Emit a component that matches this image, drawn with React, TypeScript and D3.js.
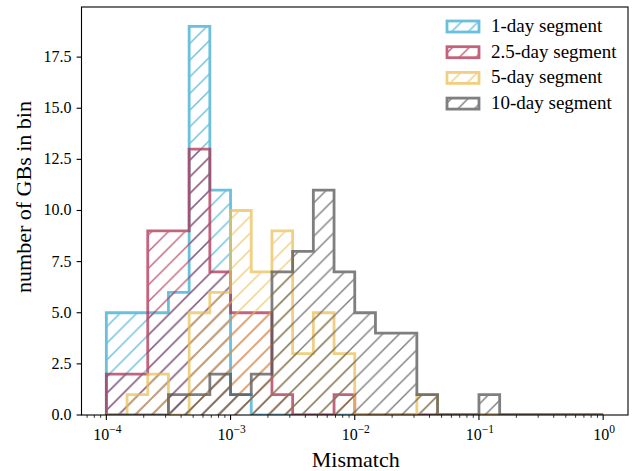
import React, { useEffect, useRef } from "react";
import * as d3 from "d3";

// histogram counts per log bin (24 bins between 1e-4 and 1e0)
const oneDay = [5, 5, 5, 6, 19, 11, 1, 0, 0, 0, 0, 0, 0, 0, 0, 0, 0, 0, 0, 0, 0, 0, 0, 0];
const twoHalfDay = [2, 2, 9, 9, 13, 7, 5, 5, 1, 0, 0, 1, 0, 0, 0, 0, 0, 0, 0, 0, 0, 0, 0, 0];
const fiveDay = [0, 1, 2, 0, 5, 6, 10, 7, 9, 3, 5, 3, 0, 0, 0, 1, 0, 0, 0, 0, 0, 0, 0, 0];
const tenDay = [0, 0, 0, 1, 1, 2, 1, 2, 7, 8, 11, 7, 5, 4, 4, 1, 0, 0, 1, 0, 0, 0, 0, 0];

const seriesNames = ["1-day segment", "2.5-day segment", "5-day segment", "10-day segment"];
const seriesColors = ["#38acd2", "#b03050", "#ebc058", "#555555"];
const yTicks = [0, 2.5, 5, 7.5, 10, 12.5, 15, 17.5];
const xMajor = [-4, -3, -2, -1, 0];

const W = 644, H = 471;
const left = 81.5, right = 628, top = 7, bottom = 415;
const FONT = "'Liberation Serif', 'DejaVu Serif', serif";

export default function App() {
  const ref = useRef<SVGSVGElement>(null);

  useEffect(() => {
    const svg = d3.select(ref.current);
    svg.selectAll("*").remove();

    const edges = d3.range(25).map((i) => Math.pow(10, -4 + i / 6));
    const x = d3.scaleLog().domain([Math.pow(10, -4.2), Math.pow(10, 0.2)]).range([left, right]);
    const y = d3.scaleLinear().domain([0, 19.95]).range([bottom, top]);

    const defs = svg.append("defs");
    const hs = 100 / 6;
    seriesColors.forEach((c, i) => {
      const p = defs.append("pattern")
        .attr("id", "hatch" + i)
        .attr("patternUnits", "userSpaceOnUse")
        .attr("width", hs)
        .attr("height", hs);
      p.append("path")
        .attr("d", `M0,${hs} L${hs},0 M${-hs / 2},${hs / 2} L${hs / 2},${-hs / 2} M${hs / 2},${hs * 1.5} L${hs * 1.5},${hs / 2}`)
        .attr("stroke", c)
        .attr("stroke-width", 1.4);
    });

    defs.append("clipPath").attr("id", "plotclip")
      .append("rect").attr("x", left).attr("y", top).attr("width", right - left).attr("height", bottom - top);

    const all = [oneDay, twoHalfDay, fiveDay, tenDay];
    const plot = svg.append("g").attr("clip-path", "url(#plotclip)");

    all.forEach((counts, si) => {
      const pts: [number, number][] = [[x(edges[0]), y(0)]];
      counts.forEach((v, i) => {
        pts.push([x(edges[i]), y(v)]);
        pts.push([x(edges[i + 1]), y(v)]);
      });
      pts.push([x(edges[24]), y(0)]);
      const line = d3.line();
      const g = plot.append("g").attr("opacity", 0.75);
      g.append("path")
        .attr("d", line(pts) + "Z")
        .attr("fill", `url(#hatch${si})`)
        .attr("stroke", "none");
      g.append("path")
        .attr("d", line(pts))
        .attr("fill", "none")
        .attr("stroke", seriesColors[si])
        .attr("stroke-width", 2.8)
        .attr("stroke-linejoin", "miter");
    });

    // frame
    svg.append("rect")
      .attr("x", left).attr("y", top).attr("width", right - left).attr("height", bottom - top)
      .attr("fill", "none").attr("stroke", "#000").attr("stroke-width", 1.1);

    // y axis
    const ya = svg.append("g");
    yTicks.forEach((t) => {
      ya.append("line")
        .attr("x1", left - 4.9).attr("x2", left)
        .attr("y1", y(t)).attr("y2", y(t))
        .attr("stroke", "#000").attr("stroke-width", 1.1);
      ya.append("text")
        .attr("x", left - 10).attr("y", y(t) + 5)
        .attr("text-anchor", "end")
        .attr("font-family", FONT).attr("font-size", 16)
        .text(d3.format(".1f")(t));
    });

    // x axis: major and minor log ticks
    const xa = svg.append("g");
    const [d0, d1] = x.domain();
    for (let e = -5; e <= 0; e++) {
      for (let m = 1; m < 10; m++) {
        const v = m * Math.pow(10, e);
        if (v < d0 || v > d1) continue;
        const major = m === 1;
        xa.append("line")
          .attr("x1", x(v)).attr("x2", x(v))
          .attr("y1", bottom).attr("y2", bottom + (major ? 4.9 : 2.8))
          .attr("stroke", "#000").attr("stroke-width", major ? 1.1 : 0.8);
      }
    }
    xMajor.forEach((e) => {
      const t = xa.append("text")
        .attr("x", x(Math.pow(10, e)) + 1)
        .attr("y", 440)
        .attr("text-anchor", "middle")
        .attr("font-family", FONT).attr("font-size", 16);
      t.append("tspan").text("10");
      t.append("tspan").attr("dy", -7).attr("font-size", 11.5).text(e < 0 ? "\u2212" + -e : String(e));
    });

    // axis labels
    svg.append("text")
      .attr("x", (left + right) / 2 + 1).attr("y", 467)
      .attr("text-anchor", "middle")
      .attr("font-family", FONT).attr("font-size", 22)
      .text("Mismatch");
    svg.append("text")
      .attr("transform", `translate(31,${(top + bottom) / 2 - 14}) rotate(-90)`)
      .attr("text-anchor", "middle")
      .attr("font-family", FONT).attr("font-size", 22)
      .text("number of GBs in bin");

    // legend
    const lg = svg.append("g");
    seriesNames.forEach((name, i) => {
      const cy = 26.5 + i * 25.7;
      const g = lg.append("g").attr("opacity", 0.75);
      g.append("rect")
        .attr("x", 447).attr("y", cy - 5.5).attr("width", 32).attr("height", 11)
        .attr("fill", `url(#hatch${i})`)
        .attr("stroke", seriesColors[i]).attr("stroke-width", 2.8);
      lg.append("text")
        .attr("x", 491).attr("y", cy + 5.5)
        .attr("font-family", FONT).attr("font-size", 19)
        .text(name);
    });
  }, []);

  return (
    <svg
      ref={ref}
      width={W}
      height={H}
      style={{ position: "absolute", left: 0, top: 0, background: "#fff" }}
    />
  );
}
